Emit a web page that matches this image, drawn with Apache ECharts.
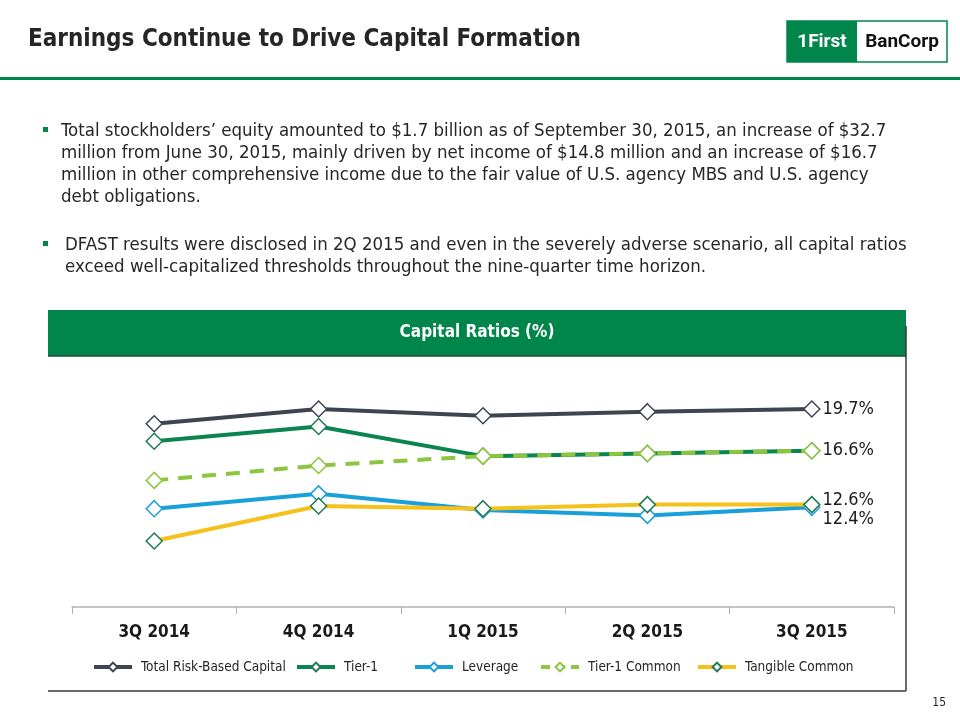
<!DOCTYPE html>
<html>
<head>
<meta charset="utf-8">
<script src="https://cdn.jsdelivr.net/npm/echarts@6/dist/echarts.min.js"></script>
<style>
html,body{margin:0;padding:0;background:#fff;}
#c{width:960px;height:720px;}
</style>
</head>
<body>
<div id="c"></div>
<script>
const categories = ['3Q 2014', '4Q 2014', '1Q 2015', '2Q 2015', '3Q 2015'];
const seriesNames = ['Total Risk-Based Capital', 'Tier-1', 'Leverage', 'Tier-1 Common', 'Tangible Common'];
const totalRiskBased = [18.6, 19.7, 19.2, 19.5, 19.7];
const tier1 = [17.3, 18.4, 16.2, 16.4, 16.6];
const leverage = [12.3, 13.4, 12.2, 11.8, 12.4];
const tier1Common = [14.4, 15.5, 16.2, 16.4, 16.6];
const tangibleCommon = [9.9, 12.5, 12.3, 12.6, 12.6];

const pageTitle = 'Earnings Continue to Drive Capital Formation';
const chartTitle = 'Capital Ratios (%)';
const bullet1 = [
  'Total stockholders\u2019 equity amounted to $1.7 billion as of September 30, 2015, an increase of $32.7',
  'million from June 30, 2015, mainly driven by net income of $14.8 million and an increase of $16.7',
  'million in other comprehensive income due to the fair value of U.S. agency MBS and U.S. agency',
  'debt obligations.'
];
const bullet2 = [
  'DFAST results were disclosed in 2Q 2015 and even in the severely adverse scenario, all capital ratios',
  'exceed well-capitalized thresholds throughout the nine-quarter time horizon.'
];

const FONT = "'DejaVu Sans Condensed', 'Liberation Sans Narrow', 'DejaVu Sans', sans-serif";
const GREEN = '#00854a';
const colors = ['#3d4550', '#0a8550', '#19a0d8', '#8cc640', '#f5c11b'];
const markerBorders = ['#3d4550', '#1f7a55', '#19a0d8', '#8cc640', '#1f7a55'];
const dataSets = [totalRiskBased, tier1, leverage, tier1Common, tangibleCommon];
const labelOffsets = [[0, 0], null, [0, 12], [0, 0], [0, -4]];

const chart = echarts.init(document.getElementById('c'), null, {renderer: 'canvas'});

const graphics = [];
graphics.push({type: 'text', left: 28, top: 28, style: {text: pageTitle, font: 'bold 24px ' + FONT, fill: '#262626'}});
graphics.push({type: 'rect', shape: {x: 0, y: 77, width: 960, height: 3}, style: {fill: GREEN}});
// logo
graphics.push({type: 'rect', shape: {x: 787, y: 21, width: 160, height: 41}, style: {fill: '#fff', stroke: GREEN, lineWidth: 1.5}});
graphics.push({type: 'rect', shape: {x: 787, y: 21, width: 70, height: 41}, style: {fill: GREEN}});
graphics.push({type: 'text', x: 822, y: 42, style: {text: '1First', font: 'bold 19px Roboto, sans-serif', fill: '#fff', align: 'center', verticalAlign: 'middle'}});
graphics.push({type: 'text', x: 902, y: 42, style: {text: 'BanCorp', font: 'bold 19px Roboto, sans-serif', fill: '#111', align: 'center', verticalAlign: 'middle'}});
// bullets
bullet1.forEach((t, i) => {
  graphics.push({type: 'text', x: 61, y: 131 + i * 22, style: {text: t, font: '18.5px ' + FONT, fill: '#262626', verticalAlign: 'middle'}});
});
bullet2.forEach((t, i) => {
  graphics.push({type: 'text', x: 65, y: 245 + i * 22, style: {text: t, font: '18.5px ' + FONT, fill: '#262626', verticalAlign: 'middle'}});
});
graphics.push({type: 'rect', shape: {x: 43, y: 127, width: 5, height: 5}, style: {fill: GREEN}});
graphics.push({type: 'rect', shape: {x: 43, y: 241, width: 5, height: 5}, style: {fill: GREEN}});
// chart panel
graphics.push({type: 'rect', shape: {x: 48, y: 310, width: 858, height: 46}, style: {fill: GREEN}});
graphics.push({type: 'line', shape: {x1: 48, y1: 356, x2: 906, y2: 356}, style: {stroke: '#1d4a33', lineWidth: 1.5}});
graphics.push({type: 'line', shape: {x1: 906, y1: 326, x2: 906, y2: 691}, style: {stroke: '#3a3a3a', lineWidth: 1.5}});
graphics.push({type: 'line', shape: {x1: 48, y1: 691, x2: 906, y2: 691}, style: {stroke: '#3a3a3a', lineWidth: 1.5}});
graphics.push({type: 'text', x: 477, y: 333, style: {text: chartTitle, font: 'bold 17px ' + FONT, fill: '#fff', align: 'center', verticalAlign: 'middle'}});
graphics.push({type: 'text', right: 14, top: 697, style: {text: '15', font: '12px ' + FONT, fill: '#262626'}});

const legendLefts = [92, 295, 413, 539, 696];
const legends = seriesNames.map((n, i) => ({
  data: [n],
  left: legendLefts[i],
  top: 660,
  padding: 0,
  itemWidth: 38,
  itemHeight: 11,
  lineStyle: {width: 4, type: i === 3 ? [9, 6] : 'solid'},
  textStyle: {fontFamily: FONT, fontSize: 13.5, color: '#262626', padding: [0, 0, 0, 4]}
}));

const series = seriesNames.map((n, i) => ({
  name: n,
  type: 'line',
  data: dataSets[i],
  symbol: 'diamond',
  symbolSize: 16,
  showAllSymbol: true,
  clip: false,
  z: 2 + i,
  lineStyle: {color: colors[i], width: 4, type: i === 3 ? [14, 10] : 'solid', cap: 'butt'},
  itemStyle: {color: '#fff', borderColor: markerBorders[i], borderWidth: 1.5},
  emphasis: {disabled: true},
  label: {
    show: labelOffsets[i] !== null,
    position: 'right',
    distance: 2,
    offset: labelOffsets[i] || [0, 0],
    fontFamily: FONT,
    fontSize: 18,
    color: '#1a1a1a',
    formatter: p => p.dataIndex === categories.length - 1 ? p.value.toFixed(1) + '%' : ''
  }
}));

chart.setOption({
  backgroundColor: '#fff',
  animation: false,
  color: colors,
  graphic: graphics,
  legend: legends,
  grid: {left: 72, right: 66, top: 378, bottom: 113},
  xAxis: {
    type: 'category',
    data: categories,
    boundaryGap: true,
    axisLine: {lineStyle: {color: '#b0b0b0', width: 1.5}},
    axisTick: {show: true, length: 7, lineStyle: {color: '#b0b0b0'}},
    axisLabel: {fontFamily: FONT, fontSize: 17, fontWeight: 'bold', color: '#1a1a1a', margin: 17}
  },
  yAxis: {
    type: 'value',
    min: 5,
    max: 22,
    show: false,
    splitLine: {show: false}
  },
  series: series
});
</script>
</body>
</html>
